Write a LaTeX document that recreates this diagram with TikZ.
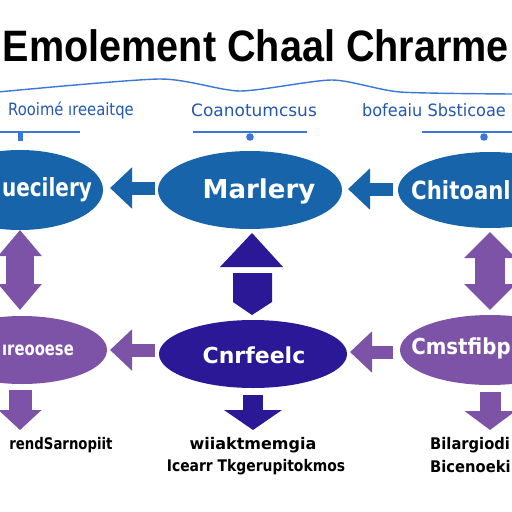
\documentclass[tikz,border=0pt]{standalone}
\usepackage{fontspec}
\setmainfont{Liberation Sans}
\newfontfamily\dvs{DejaVu Sans}
\usetikzlibrary{shapes.geometric,arrows.meta,calc}
\definecolor{tblue}{HTML}{1764AB}
\definecolor{purp}{HTML}{7C53A7}
\definecolor{indig}{HTML}{2A1896}
\definecolor{subblue}{HTML}{2458B0}
\definecolor{lineblue}{HTML}{3A78D8}
\begin{document}
\begin{tikzpicture}[x=1pt,y=-1pt,
  ell/.style={ellipse,inner sep=0pt,outer sep=0pt,draw=none},
  etext/.style={text=white,inner sep=0pt,font=\dvs\bfseries\fontsize{25}{28}\selectfont},
  btext/.style={text=white,inner sep=0pt,font=\dvs\bfseries\fontsize{22}{26}\selectfont},
  subtext/.style={text=subblue,inner sep=0pt,font=\dvs\fontsize{17}{20}\selectfont},
  lowtext/.style={text=black,inner sep=0pt,font=\dvs\bfseries\fontsize{16}{19}\selectfont},
  harrow/.style={line width=13pt,-{Triangle[width=40pt,length=22pt]}},
  darrow/.style={line width=28pt,{Triangle[width=42pt,length=26pt]}-{Triangle[width=42pt,length=26pt]}},
]
\useasboundingbox (0,0) rectangle (512,512);
\fill[white] (0,0) rectangle (512,512);
\clip (0,0) rectangle (512,512);

% title
\node[inner sep=0pt] (title) at (256,46) {\scalebox{0.9}[1]{\bfseries\fontsize{44}{50}\selectfont Emolement Chaal Chrarme}};

% wavy line
\draw[lineblue,line width=1.4pt] plot[smooth,tension=0.4] coordinates {(-2,92) (160,79) (240,91) (332,80) (400,92) (514,94)};

% subtitles
\node[subtext] (s1) at (71,110) {\scalebox{0.87}[1]{Rooim\'e ıreeaitqe}};
\node[subtext] (s2) at (254,110) {Coanotumcsus};
\node[subtext] (s3) at (434,110) {\scalebox{0.95}[1]{bofeaiu Sbsticoae}};

% small lines
\draw[lineblue,line width=1.2pt] (0,132) -- (80,132);
\fill[lineblue] (18,132) rectangle (23,141);
\draw[lineblue,line width=1.2pt] (193,132) -- (307,132);
\fill[lineblue] (250,137) circle (3.8);
\draw[lineblue,line width=1.2pt] (422,132) -- (512,132);
\fill[lineblue] (484,137) circle (3.8);

% top ellipses
\node[ell,fill=tblue,minimum width=166pt,minimum height=80pt] (tl) at (20,190) {};
\node[etext] (tlt) at (47,190) {\scalebox{0.8}[1]{uecilery}};
\node[ell,fill=tblue,minimum width=184pt,minimum height=78pt] (tm) at (250,190) {};
\node[etext,font=\dvs\bfseries\fontsize{26}{28}\selectfont] (tmt) at (259,191) {Marlery};
\node[ell,fill=tblue,minimum width=184pt,minimum height=76pt] (tr) at (490,190) {};
\node[etext] (trt) at (461,190) {\scalebox{0.85}[1]{Chitoanl}};

% bottom ellipses
\node[ell,fill=purp,minimum width=170pt,minimum height=68pt] (bl) at (22,350) {};
\node[btext,font=\dvs\bfseries\fontsize{19}{22}\selectfont] (blt) at (38,350) {\scalebox{0.78}[1]{ıreooese}};
\node[ell,fill=indig,minimum width=188pt,minimum height=68pt] (cb) at (253,354) {};
\node[btext] (cbt) at (254,355) {Cnrfeelc};
\node[ell,fill=purp,minimum width=180pt,minimum height=70pt] (br) at (490,350) {};
\node[btext] (brt) at (461,348) {\scalebox{0.9}[1]{Cmstfibp}};

% top horizontal arrows
\draw[harrow,tblue] ($(tm.west)+(-3,-2)$) -- ($(tl.east)+(7,-2)$);
\draw[harrow,tblue] ($(tr.west)+(-5,-1)$) -- ($(tm.east)+(6,-1)$);

% bottom horizontal arrows
\draw[harrow,purp] ($(cb.west |- bl.east)+(-4,0)$) -- ($(bl.east)+(3,0)$);
\draw[harrow,purp] ($(br.west)+(-7,2)$) -- ($(cb.east |- br.west)+(3,2)$);

% vertical double arrows
\draw[darrow,purp] ($(tl.south)+(0,0)$) -- ($(bl.north)+(-2,-6)$);
\draw[purp,line width=30pt,{Triangle[width=50pt,length=26pt]}-{Triangle[width=50pt,length=26pt]}] ($(tr.south)+(0,4)$) -- ($(br.north)+(0,-5)$);

% central up arrow
\fill[indig] (252,233) -- (283,267) -- (220,267) -- cycle;
\fill[indig] (233,273) -- (272,273) -- (272,302) -- (252,315) -- (233,302) -- cycle;

% down arrows
\draw[purp,line width=23pt,-{Triangle[width=42pt,length=20pt]}] ($(bl.south)+(-2,6)$) -- ($(bl.south)+(-2,46)$);
\draw[indig,line width=20pt,-{Triangle[width=57pt,length=20pt]}] ($(cb.south)+(0,7)$) -- ($(cb.south)+(0,42)$);
\draw[purp,line width=21pt,-{Triangle[width=50pt,length=19pt]}] ($(br.south)+(0,7)$) -- ($(br.south)+(0,45)$);

% bottom texts
\node[lowtext] (lt1) at (61,445) {\scalebox{0.83}[1]{rendSarnopiit}};
\node[lowtext] (ct1) at (253,445) {wiiaktmemgia};
\node[lowtext] (ct2) at (256,467) {\scalebox{0.87}[1]{Icearr Tkgerupitokmos}};
\node[lowtext,anchor=west] (rt1) at (430,445) {\scalebox{0.92}[1]{Bilargiodi}};
\node[lowtext,anchor=west] (rt2) at (430,467) {\scalebox{0.92}[1]{Bicenoeki}};
\end{tikzpicture}
\end{document}
